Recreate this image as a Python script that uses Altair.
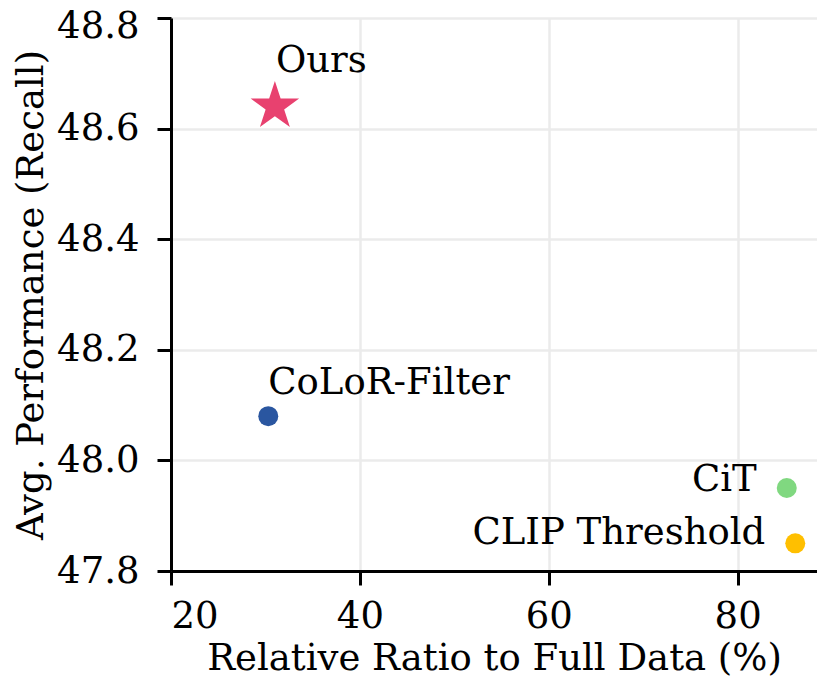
import altair as alt
import pandas as pd

methods = ["Ours", "CoLoR-Filter", "CiT", "CLIP Threshold"]
ratio = [31.0, 30.3, 85.2, 86.1]
recall = [48.64, 48.08, 47.95, 47.85]
colors = ["#E8416F", "#2A56A0", "#80D880", "#FFBF00"]
marker = ["star", "circle", "circle", "circle"]
x_ticks = [20, 40, 60, 80]
y_ticks = [47.8, 48.0, 48.2, 48.4, 48.6, 48.8]

df = pd.DataFrame({"method": methods, "ratio": ratio, "recall": recall,
                   "col": colors, "marker": marker})

FONT = "DejaVu Serif"
FS = 37
STAR = ("M0,-1L0.2245,-0.309L0.951,-0.309L0.3633,0.118L0.5878,0.809L0,0.382"
        "L-0.5878,0.809L-0.3633,0.118L-0.951,-0.309L-0.2245,-0.309Z")

xs = alt.Scale(domain=[20, 88.4], nice=False, zero=False)
ys = alt.Scale(domain=[47.8, 48.8], nice=False, zero=False)

x_enc = alt.X("ratio:Q", scale=xs,
              axis=alt.Axis(values=x_ticks, title="Relative Ratio to Full Data (%)", format="d",
                            labelPadding=13, titlePadding=6))
y_enc = alt.Y("recall:Q", scale=ys,
              axis=alt.Axis(values=y_ticks, title="Avg. Performance (Recall)", format=".1f",
                            labelPadding=18, titlePadding=6,
                            labelOffset=alt.ExprRef(expr="datum.value > 48.75 ? 8 : 0")))

circ_df = df[df["marker"] == "circle"]
star_df = df[df["marker"] == "star"]

pts = alt.Chart(circ_df).mark_point(
    filled=True, opacity=1, size=400, shape="circle"
).encode(x=x_enc, y=y_enc, color=alt.Color("col:N", scale=None))

star = alt.Chart(star_df).mark_point(
    filled=True, opacity=1, size=2600, shape=STAR, strokeWidth=2, strokeJoin="round"
).encode(x=x_enc, y=y_enc, color=alt.Color("col:N", scale=None))

def lab(name, align, dx, dy):
    return alt.Chart(df[df["method"] == name]).mark_text(
        font=FONT, fontSize=FS, align=align, baseline="alphabetic", dx=dx, dy=dy, color="black"
    ).encode(x=x_enc, y=y_enc, text="method:N")

texts = [lab("Ours", "left", 1, -34), lab("CoLoR-Filter", "left", 0, -22),
         lab("CiT", "right", -30, 3), lab("CLIP Threshold", "right", -30, 1)]

chart = alt.layer(pts, star, *texts).properties(
    width=646, height=553,
    autosize=alt.AutoSizeParams(type="none"),
    padding={"left": 163, "top": 10, "right": 0, "bottom": 113},
).configure_view(stroke=None).configure_axis(
    labelFont=FONT, titleFont=FONT, labelFontSize=FS, titleFontSize=FS,
    labelColor="black", titleColor="black", titleFontWeight="normal",
    domainColor="black", domainWidth=3, tickColor="black", tickWidth=3, tickSize=14,
    gridColor="#EBEBEB", gridWidth=2.5,
)

chart.save("out.html", embed_options={"renderer": "svg", "actions": False})
